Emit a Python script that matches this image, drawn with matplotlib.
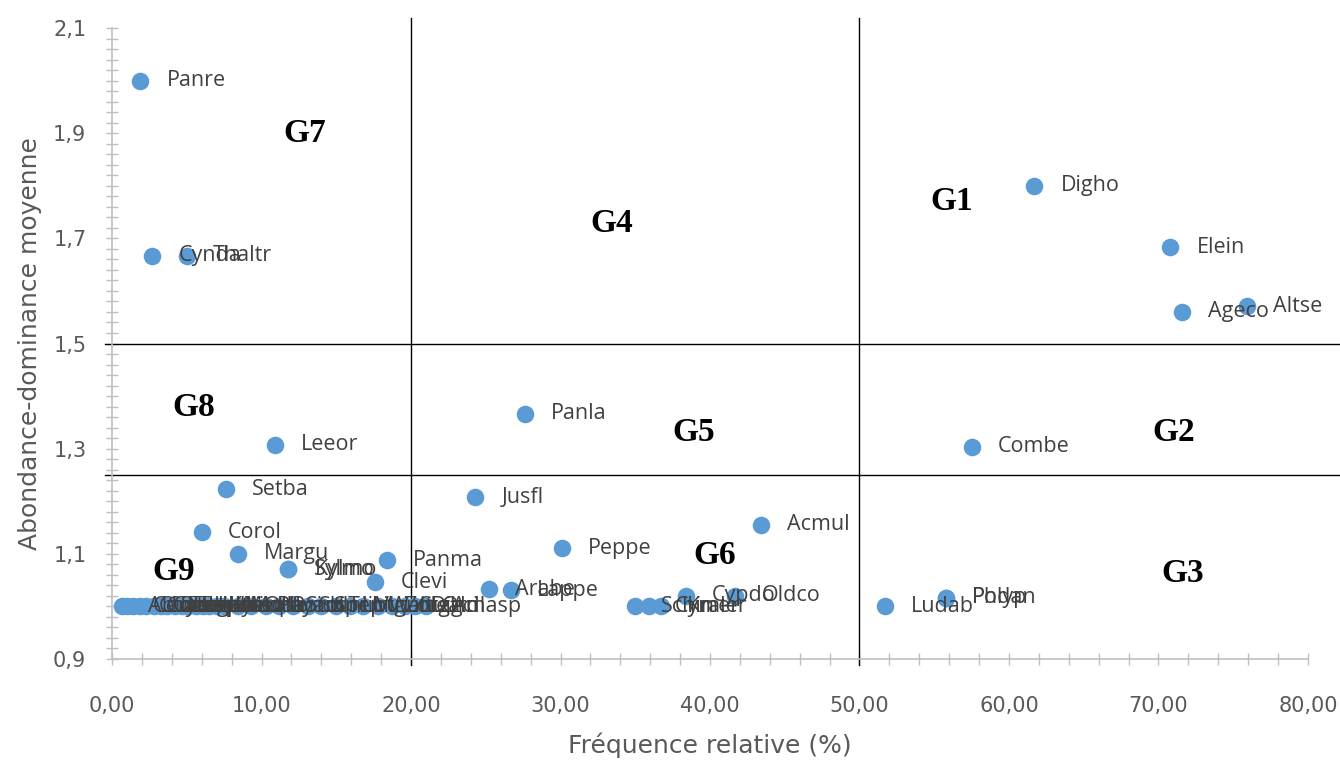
import matplotlib.pyplot as plt
from matplotlib.ticker import MultipleLocator, FuncFormatter

# species points (relative frequency %, mean abundance-dominance)
names = ['Panre', 'Cynda', 'Thaltr', 'Digho', 'Elein', 'Ageco', 'Altse',
         'Panla', 'Combe', 'Leeor', 'Setba', 'Jusfl', 'Acmul', 'Corol',
         'Peppe', 'Margu', 'Panma', 'Kylmo', 'Sylmo', 'Clevi', 'Arabe',
         'Lappe', 'Amasp', 'Schin', 'Cymer', 'Kraler', 'Cypdo', 'Oldco',
         'Ludab', 'Polyp', 'Phdan']
freq = [1.9, 2.7, 5.0, 61.7, 70.8, 71.6, 75.9,
        27.6, 57.5, 10.9, 7.6, 24.3, 43.4, 6.0,
        30.1, 8.4, 18.4, 11.8, 11.8, 17.6, 25.2,
        26.7, 21.0, 35.0, 35.9, 36.7, 38.4, 41.7,
        51.7, 55.8, 55.8]
abund = [2.0, 1.667, 1.667, 1.8, 1.683, 1.56, 1.571,
         1.366, 1.304, 1.307, 1.223, 1.208, 1.155, 1.141,
         1.111, 1.10, 1.088, 1.071, 1.071, 1.046, 1.033,
         1.031, 1.0, 1.0, 1.0, 1.0, 1.02, 1.02,
         1.0, 1.016, 1.016]

# dense group of rare species at abundance 1.0
rare_names = ['Abutr', 'Cenca', 'Chalb', 'Conar', 'Cyrot', 'Dacgl', 'Echco',
              'Eraci', 'Eupdi', 'Hibtr', 'Indhi', 'Ipoer', 'Kyrsq', 'Leuma',
              'Medla', 'Mollu', 'Ocibr', 'Phyam', 'Porol', 'Sidco', 'Solni',
              'Spepi', 'Tribu', 'Urtri', 'Vigun', 'Waltu', 'Zorgl', 'Cleal',
              'Digci', 'Ordl']
rare_freq = [0.7, 1.0, 1.4, 1.9, 2.3, 2.8, 3.3, 3.7, 4.2, 4.7, 5.1, 5.6,
             6.1, 6.5, 7.0, 7.5, 8.4, 9.3, 10.3, 11.2, 12.1, 13.1, 14.0,
             15.0, 15.9, 16.8, 17.8, 18.7, 19.6, 20.3]
rare_abund = [1.0] * len(rare_names)

groups = ['G1', 'G2', 'G3', 'G4', 'G5', 'G6', 'G7', 'G8', 'G9']
group_x = [56.2, 71.0, 71.6, 33.4, 38.9, 40.3, 12.9, 5.5, 4.1]
group_y = [1.771, 1.33, 1.063, 1.729, 1.33, 1.096, 1.90, 1.379, 1.067]

freq_cuts = [20, 50]
abund_cuts = [1.5, 1.25]

blue = '#5B9BD5'
grey = '#BFBFBF'
txt = '#595959'

fig = plt.figure(figsize=(13.4, 7.6), dpi=100)
ax = fig.add_axes([0.0836, 0.133, 0.8925, 0.830])

all_x = rare_freq + freq
all_y = rare_abund + abund
all_n = rare_names + names
ax.scatter(all_x, all_y, s=160, color=blue, zorder=3, linewidths=0)
for n, x, y in zip(all_n, all_x, all_y):
    ax.annotate(n, (x, y), xytext=(26, 0), textcoords='offset pixels',
                ha='left', va='center', fontsize=15.5, color='#404040',
                family='Open Sans', zorder=4)

for g, x, y in zip(groups, group_x, group_y):
    ax.text(x, y, g, ha='center', va='center', fontsize=24,
            fontweight='bold', family='Liberation Serif', color='black')

# quadrant separators
for c in freq_cuts:
    ax.plot([c, c], [0.888, 2.12], color='black', lw=1, clip_on=False, zorder=2)
for c in abund_cuts:
    ax.plot([-0.5, 82.2], [c, c], color='black', lw=1, clip_on=False, zorder=2)

ax.set_xlim(0, 80)
ax.set_ylim(0.9, 2.1)
ax.xaxis.set_major_locator(MultipleLocator(10))
ax.xaxis.set_minor_locator(MultipleLocator(2))
ax.yaxis.set_major_locator(MultipleLocator(0.2, offset=0.1))
ax.yaxis.set_minor_locator(MultipleLocator(0.02))
ax.xaxis.set_major_formatter(FuncFormatter(lambda v, p: f'{v:.2f}'.replace('.', ',')))
ax.yaxis.set_major_formatter(FuncFormatter(lambda v, p: f'{v:.1f}'.replace('.', ',')))

for s in ['top', 'right']:
    ax.spines[s].set_visible(False)
for s in ['left', 'bottom']:
    ax.spines[s].set_color(grey)
    ax.spines[s].set_linewidth(1.2)
ax.tick_params(which='both', direction='inout', length=9, color=grey,
               width=1, labelsize=15, labelcolor=txt)
ax.tick_params(axis='x', pad=22)
ax.tick_params(axis='y', pad=14)

ax.set_xlabel('Fréquence relative (%)', fontsize=18, color=txt, labelpad=12)
ax.set_ylabel('Abondance-dominance moyenne', fontsize=18, color=txt, labelpad=8)

fig.savefig('out.png', dpi=100)
